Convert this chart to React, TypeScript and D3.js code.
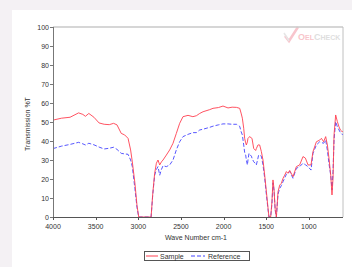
import React from 'react';
import * as d3 from 'd3';

// IR spectrum: wavenumber (cm-1) vs transmission %T
const waveNumbers = [
  4000, 3900, 3800, 3700, 3650, 3620, 3580, 3520, 3460, 3400, 3340, 3290, 3250, 3200, 3160, 3120,
  3090, 3070, 3040, 3015, 2995, 2850, 2830, 2808, 2788, 2769, 2749, 2729, 2710, 2671, 2632, 2593,
  2554, 2515, 2476, 2417, 2360, 2319, 2280, 2241, 2163, 2124, 2060, 2007, 1948, 1900, 1850, 1811,
  1795, 1780, 1764, 1753, 1741, 1733, 1721, 1714, 1702, 1694, 1674, 1667, 1647, 1624, 1616, 1597,
  1589, 1577, 1557, 1538, 1518, 1498, 1479, 1468, 1448, 1433, 1421, 1409, 1395, 1381, 1362, 1342,
  1323, 1303, 1284, 1264, 1245, 1225, 1186, 1147, 1108, 1069, 1041, 1010, 975, 952, 912, 873,
  853, 827, 803, 783, 764, 744, 729, 717, 705, 686, 666, 647, 631, 612, 603,
];
const sampleT = [
  51, 52, 52.5, 54.8, 54, 53, 54.5, 52.5, 49.5, 48.8, 48.6, 49.3, 48.5, 44, 43.2, 41.4,
  35.3, 29, 18, 6, 0, 0, 12.5, 23, 28.3, 30, 27.4, 29, 30, 32.6, 35.3, 38.8,
  44, 49.3, 52.8, 53.5, 52.8, 53.3, 54.5, 55.4, 56.5, 57.2, 57.6, 58.4, 57.4, 57.8, 57.7, 57.2,
  54.7, 52, 46.7, 41.4, 39, 37.9, 39.5, 41.4, 42, 42.3, 41.6, 41.4, 36.1, 35, 36, 37.9,
  38, 37.9, 34.4, 30, 22, 13.3, 4.7, 0, 0, 8, 19.5, 15, 4, 0, 13.3, 16.8,
  17.7, 20.4, 22, 23.9, 23, 24.5, 21.2, 26.5, 27.4, 31.8, 31, 27.4, 27.4, 34.4, 39.6, 40.5,
  41.4, 39.6, 42.3, 37.9, 30.9, 22, 11.6, 20.4, 43.2, 53.7, 50.2, 47.5, 45.8, 45, 45,
];
const referenceT = [
  36, 37.3, 38.2, 39.3, 38.5, 37.9, 38.8, 38, 36.8, 35.8, 36.2, 36.7, 35.6, 33.5, 33.2, 33,
  30, 26.5, 15, 5, 0, 0, 12, 22, 25, 26.5, 22, 25, 27, 26.5, 27.4, 30,
  35.3, 39.6, 42.3, 43.5, 44.4, 44.4, 45.8, 46.2, 47.2, 47.8, 48.5, 49, 49, 48.8, 48.8, 47.7,
  45, 43.2, 37.9, 34, 32.6, 30, 27.4, 30, 33.5, 33, 32, 31, 29.1, 28, 27.4, 31,
  32.6, 32.5, 32, 27.4, 20.4, 11.6, 4, 0, 0, 7, 18, 14, 3.5, 0, 12, 15,
  16.5, 18.6, 20.5, 22.5, 23, 24, 20.4, 25.6, 26.5, 28.3, 27.5, 26.5, 24.7, 33.5, 37.9, 39.6,
  39.2, 38.8, 40.5, 35, 28, 22, 14.2, 23.9, 40.5, 50.2, 47.5, 45.8, 44.5, 43.5, 43.5,
];
const xTicks = [4000, 3500, 3000, 2500, 2000, 1500, 1000];
const yTicks = [0, 10, 20, 30, 40, 50, 60, 70, 80, 90, 100];

const W = 352, H = 267;
const plot = { left: 53, right: 343, top: 27, bottom: 217 };
const font = 'Liberation Sans, Arial, sans-serif';

export default function App() {
  const x = d3.scaleLinear().domain([4000, 600]).range([plot.left, plot.right]);
  const y = d3.scaleLinear().domain([0, 100]).range([plot.bottom, plot.top]);

  const line = d3.line<number>()
    .x((_, i) => x(waveNumbers[i]))
    .y(d => y(d));

  return (
    <svg width={W} height={H} style={{ position: 'absolute', left: 0, top: 0 }} fontFamily={font}>
      <rect width={W} height={H} fill="#f4f1f4" />
      <rect x={12} y={10} width={W - 12} height={H - 10} fill="#ffffff" />

      {/* watermark */}
      <g opacity={0.45}>
        <path d="M285,36 l4,5 l9,-14" fill="none" stroke="#f08090" strokeWidth={2.5} />
        <path d="M284,33 l5,8" fill="none" stroke="#c8c8c8" strokeWidth={1.5} />
        <text x={298} y={40} fontSize={9} fontWeight="bold" fill="#f07f8c">O<tspan fontSize={7}>EL</tspan>
          <tspan fill="#b8b8b8" fontSize={9}>C</tspan><tspan fill="#b8b8b8" fontSize={7}>HECK</tspan></text>
      </g>

      {/* frame */}
      <line x1={plot.left} x2={plot.right} y1={plot.top} y2={plot.top} stroke="#c8c8c8" strokeWidth={1.5} />
      <line x1={plot.right} x2={plot.right} y1={plot.top} y2={plot.bottom} stroke="#c0c0c0" strokeWidth={1} />

      <clipPath id="pc">
        <rect x={plot.left} y={plot.top - 2} width={plot.right - plot.left} height={plot.bottom - plot.top + 2} />
      </clipPath>
      <g clipPath="url(#pc)">
        <path d={line(referenceT) || ''} fill="none" stroke="#4444ff" strokeWidth={0.9} strokeDasharray="4,2" />
        <path d={line(sampleT) || ''} fill="none" stroke="#ff4050" strokeWidth={0.9} />
      </g>

      {/* axes */}
      <line x1={plot.left + 0.5} x2={plot.left + 0.5} y1={plot.top} y2={plot.bottom} stroke="#777" />
      <line x1={plot.left} x2={plot.right} y1={plot.bottom + 0.5} y2={plot.bottom + 0.5} stroke="#555" />
      {yTicks.map(t => (
        <g key={t}>
          <line x1={plot.left - 3} x2={plot.left} y1={Math.round(y(t)) + 0.5} y2={Math.round(y(t)) + 0.5} stroke="#777" />
          <text x={plot.left - 4} y={y(t) + 2.5} fontSize={7} textAnchor="end" fill="#333">{t}</text>
        </g>
      ))}
      {xTicks.map(t => (
        <g key={t}>
          <line x1={Math.round(x(t)) + 0.5} x2={Math.round(x(t)) + 0.5} y1={plot.bottom} y2={plot.bottom + 3} stroke="#555" />
          <text x={x(t)} y={plot.bottom + 12} fontSize={7} textAnchor="middle" fill="#333">{t}</text>
        </g>
      ))}
      <text transform={`translate(30,${(plot.top + plot.bottom) / 2 + 2}) rotate(-90)`} fontSize={7} textAnchor="middle" fill="#333">Transmission %T</text>
      <text x={196} y={240} fontSize={7} textAnchor="middle" fill="#333">Wave Number cm-1</text>

      {/* legend */}
      <rect x={144.5} y={251.5} width={105} height={9} fill="#fff" stroke="#555" />
      <line x1={146} x2={158} y1={256} y2={256} stroke="#ff4050" />
      <text x={160} y={258.5} fontSize={7} fill="#333">Sample</text>
      <line x1={191} x2={205} y1={256} y2={256} stroke="#4444ff" strokeDasharray="4,2" />
      <text x={208} y={258.5} fontSize={7} fill="#333">Reference</text>
    </svg>
  );
}
